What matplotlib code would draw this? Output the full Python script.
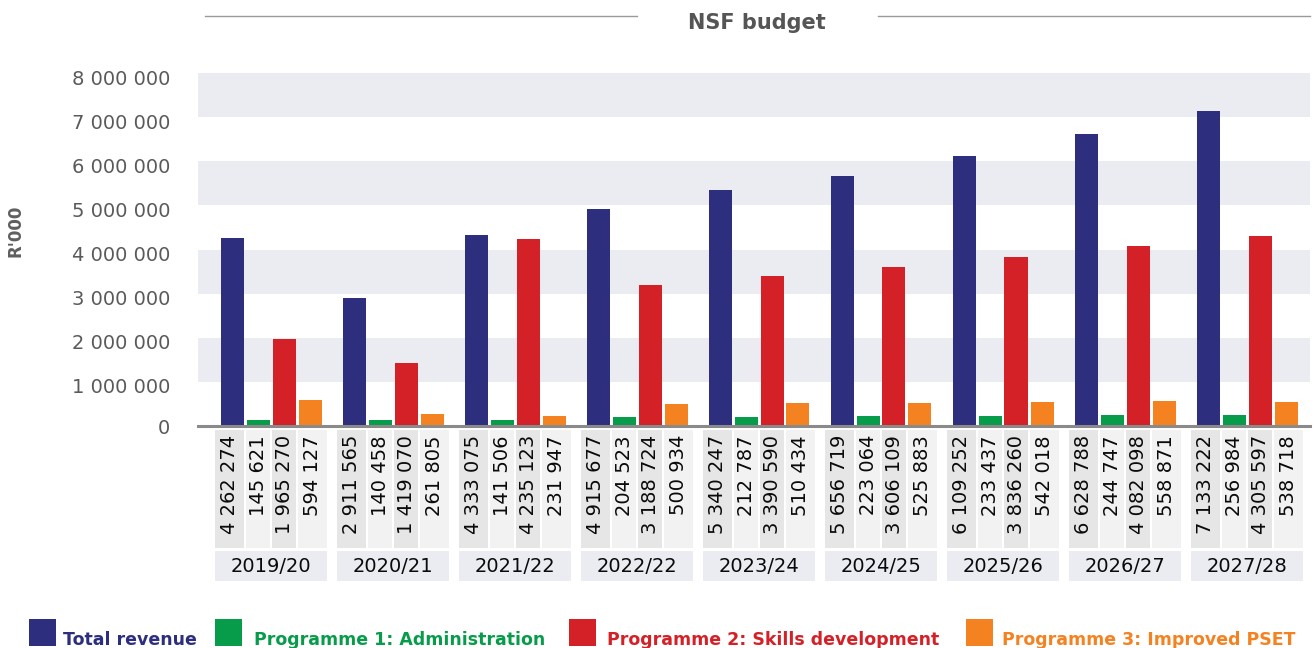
import numpy as np
import matplotlib.pyplot as plt
import matplotlib.transforms as mtransforms
from matplotlib.patches import Rectangle
from matplotlib.lines import Line2D

# ---------- data ----------
years = ["2019/20", "2020/21", "2021/22", "2022/22", "2023/24",
         "2024/25", "2025/26", "2026/27", "2027/28"]
total_revenue = [4262274, 2911565, 4333075, 4915677, 5340247,
                 5656719, 6109252, 6628788, 7133222]
prog1_admin = [145621, 140458, 141506, 204523, 212787,
               223064, 233437, 244747, 256984]
prog2_skills = [1965270, 1419070, 4235123, 3188724, 3390590,
                3606109, 3836260, 4082098, 4305597]
prog3_pset = [594127, 261805, 231947, 500934, 510434,
              525883, 542018, 558871, 538718]
series_names = ["Total revenue", "Programme 1: Administration",
                "Programme 2: Skills development", "Programme 3: Improved PSET"]
colors = ["#2e2e7e", "#079c4a", "#d42027", "#f58220"]

W, H = 1316, 648
fig = plt.figure(figsize=(W / 100, H / 100), dpi=100)


def fx(px):
    return px / W


def fy(py):
    return 1 - py / H


# group geometry in pixels: 122 px per group, first centre at 271
gpx = 122.0
left_px, right_px = 198, 1310
xl = ((left_px - 271) / gpx, (right_px - 271) / gpx)

# ---------- main bar axes ----------
ax = fig.add_axes([fx(left_px), fy(426), fx(right_px) - fx(left_px), (426 - 73) / H])
ax.set_xlim(*xl)
ax.set_ylim(0, 8e6)

for lo in [1e6, 3e6, 5e6, 7e6]:
    ax.axhspan(lo, lo + 1e6, color="#ebebf2", zorder=0, lw=0)

x = np.arange(len(years))
all_series = [total_revenue, prog1_admin, prog2_skills, prog3_pset]
bw = 23 / gpx
step = 26 / gpx
for k, (vals, c) in enumerate(zip(all_series, colors)):
    ax.bar(x + (k - 1.5) * step, vals, width=bw, color=c, zorder=2)

ax.set_yticks(np.arange(0, 8e6 + 1, 1e6))
ax.set_yticklabels(["0"] + [f"{i} 000 000" for i in range(1, 9)],
                   fontsize=14, color="#5a5a5a")
ax.tick_params(axis="y", length=0, pad=20)
# labels sit a little below their lines in the original
shift = mtransforms.ScaledTranslation(0, -4 / 100, fig.dpi_scale_trans)
for lab in ax.get_yticklabels()[1:]:
    lab.set_transform(lab.get_transform() + shift)
ax.set_xticks([])
for s in ["top", "right", "left"]:
    ax.spines[s].set_visible(False)
ax.spines["bottom"].set_color("#8a8a8a")
ax.spines["bottom"].set_linewidth(2.2)
ax.spines["bottom"].set_zorder(3)

# ---------- value table below ----------
tab = fig.add_axes([fx(left_px), fy(581), fx(right_px) - fx(left_px), (581 - 430) / H])
tab.set_xlim(*xl)
tab.set_ylim(581, 430)
tab.axis("off")

edges = np.array([-57, -26, 0, 26, 57]) / gpx
gap = 0.6 / gpx
cell_cols = ["#e6e6e7", "#f2f2f2", "#e6e6e7", "#f2f2f2"]
for i, yr in enumerate(years):
    for k in range(4):
        a = i + edges[k] + gap
        b = i + edges[k + 1] - gap
        tab.add_patch(Rectangle((a, 430), b - a, 548 - 430,
                                facecolor=cell_cols[k], lw=0))
        val = all_series[k][i]
        s = f"{val:,}".replace(",", " ")
        tab.text((a + b) / 2, 435, s, rotation=90, rotation_mode="anchor",
                 ha="right", va="center", fontsize=14, color="#0a0a0a")
    a = i + edges[0] + gap
    b = i + edges[-1] - gap
    tab.add_patch(Rectangle((a, 551), b - a, 30, facecolor="#ebebf2", lw=0))
    tab.text(i, 566.5, yr, ha="center", va="center", fontsize=14, color="#0a0a0a")

# ---------- title ----------
fig.text(fx(757), fy(23), "NSF budget", ha="center", va="center",
         fontsize=15, fontweight="bold", color="#555555")
fig.add_artist(Line2D([fx(205), fx(637)], [fy(16), fy(16)], color="#9a9a9a", lw=1))
fig.add_artist(Line2D([fx(878), fx(1310)], [fy(16), fy(16)], color="#9a9a9a", lw=1))

# y label
fig.text(fx(15), fy(231), "R'000", rotation=90, ha="center", va="center",
         fontsize=12, fontweight="bold", color="#5f5f5f")

# ---------- legend ----------
sq_x = [29, 215, 569, 966]
txt_x = [63, 254, 607, 1002]
for name, c, sx, tx in zip(series_names, colors, sq_x, txt_x):
    fig.add_artist(Rectangle((fx(sx), fy(646)), fx(27), 27 / H,
                             facecolor=c, lw=0, transform=fig.transFigure))
    fig.text(fx(tx), fy(645), name, ha="left", va="baseline",
             fontsize=12.5, fontweight="bold", color=c)

fig.savefig("out.png", dpi=100)
